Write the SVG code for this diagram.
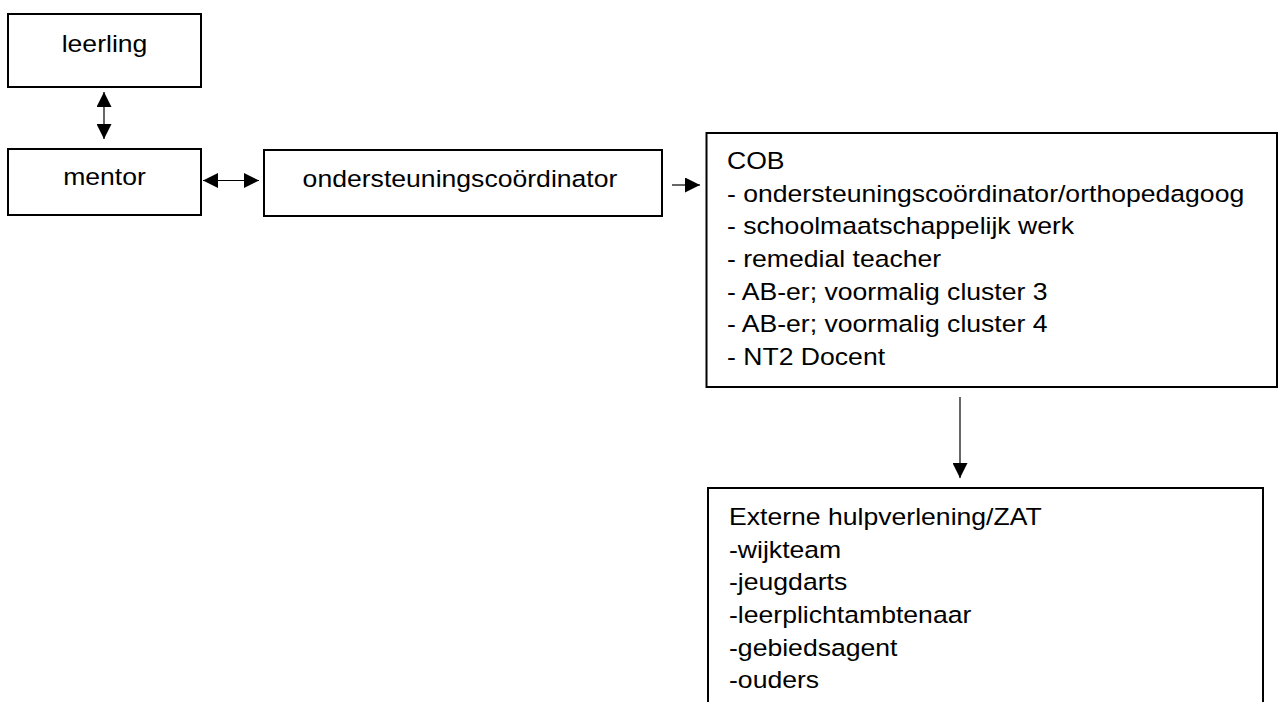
<svg xmlns="http://www.w3.org/2000/svg" width="1279" height="702" viewBox="0 0 1279 702">
  <style>
    .box { fill: #ffffff; stroke: #000000; stroke-width: 2; }
    .lbl { font-family: "Liberation Sans", Arial, sans-serif; font-size: 23.5px; fill: #000000; }
    .mid { text-anchor: middle; }
    .con { stroke: #000000; stroke-width: 1.2; fill: none; }
  </style>
  <defs>
    <marker id="arr" viewBox="0 0 15 15" refX="15" refY="7.5" markerWidth="15" markerHeight="15" markerUnits="userSpaceOnUse" orient="auto-start-reverse">
      <path d="M0,0 L15,7.5 L0,15 Z" fill="#000000"/>
    </marker>
  </defs>
  <rect x="0" y="0" width="1279" height="702" fill="#ffffff"/>

  <g id="leerling">
    <rect class="box" x="8" y="14" width="193" height="73"/>
    <g transform="translate(104.5 52) scale(1.132 1)"><text class="lbl mid" x="0" y="0">leerling</text></g>
  </g>

  <g id="mentor">
    <rect class="box" x="8" y="149" width="193" height="66"/>
    <g transform="translate(104.5 185) scale(1.132 1)"><text class="lbl mid" x="0" y="0">mentor</text></g>
  </g>

  <g id="ondersteuningscoordinator">
    <rect class="box" x="264" y="150" width="398" height="66"/>
    <g transform="translate(460 186.5) scale(1.132 1)"><text class="lbl mid" x="0" y="0">ondersteuningscoördinator</text></g>
  </g>

  <g id="cob">
    <rect class="box" x="706.5" y="133" width="570.5" height="254"/>
    <g transform="translate(727 169) scale(1.132 1)">
      <text class="lbl" x="0" y="0">
        <tspan x="0" dy="0">COB</tspan>
        <tspan x="0" dy="32.67">- ondersteuningscoördinator/orthopedagoog</tspan>
        <tspan x="0" dy="32.67">- schoolmaatschappelijk werk</tspan>
        <tspan x="0" dy="32.67">- remedial teacher</tspan>
        <tspan x="0" dy="32.67">- AB-er; voormalig cluster 3</tspan>
        <tspan x="0" dy="32.67">- AB-er; voormalig cluster 4</tspan>
        <tspan x="0" dy="32.67">- NT2 Docent</tspan>
      </text>
    </g>
  </g>

  <g id="externe">
    <rect class="box" x="708" y="488" width="555" height="240"/>
    <g transform="translate(729 525) scale(1.132 1)">
      <text class="lbl" x="0" y="0">
        <tspan x="0" dy="0">Externe hulpverlening/ZAT</tspan>
        <tspan x="0" dy="32.7">-wijkteam</tspan>
        <tspan x="0" dy="32.7">-jeugdarts</tspan>
        <tspan x="0" dy="32.7">-leerplichtambtenaar</tspan>
        <tspan x="0" dy="32.7">-gebiedsagent</tspan>
        <tspan x="0" dy="32.7">-ouders</tspan>
      </text>
    </g>
  </g>

  <g id="connectors">
    <line class="con" x1="104" y1="92" x2="104" y2="139" marker-start="url(#arr)" marker-end="url(#arr)"/>
    <line class="con" x1="203" y1="180.5" x2="259" y2="180.5" marker-start="url(#arr)" marker-end="url(#arr)"/>
    <line class="con" x1="672" y1="185" x2="700" y2="185" marker-end="url(#arr)"/>
    <line class="con" x1="960" y1="397" x2="960" y2="478" marker-end="url(#arr)"/>
  </g>
</svg>
